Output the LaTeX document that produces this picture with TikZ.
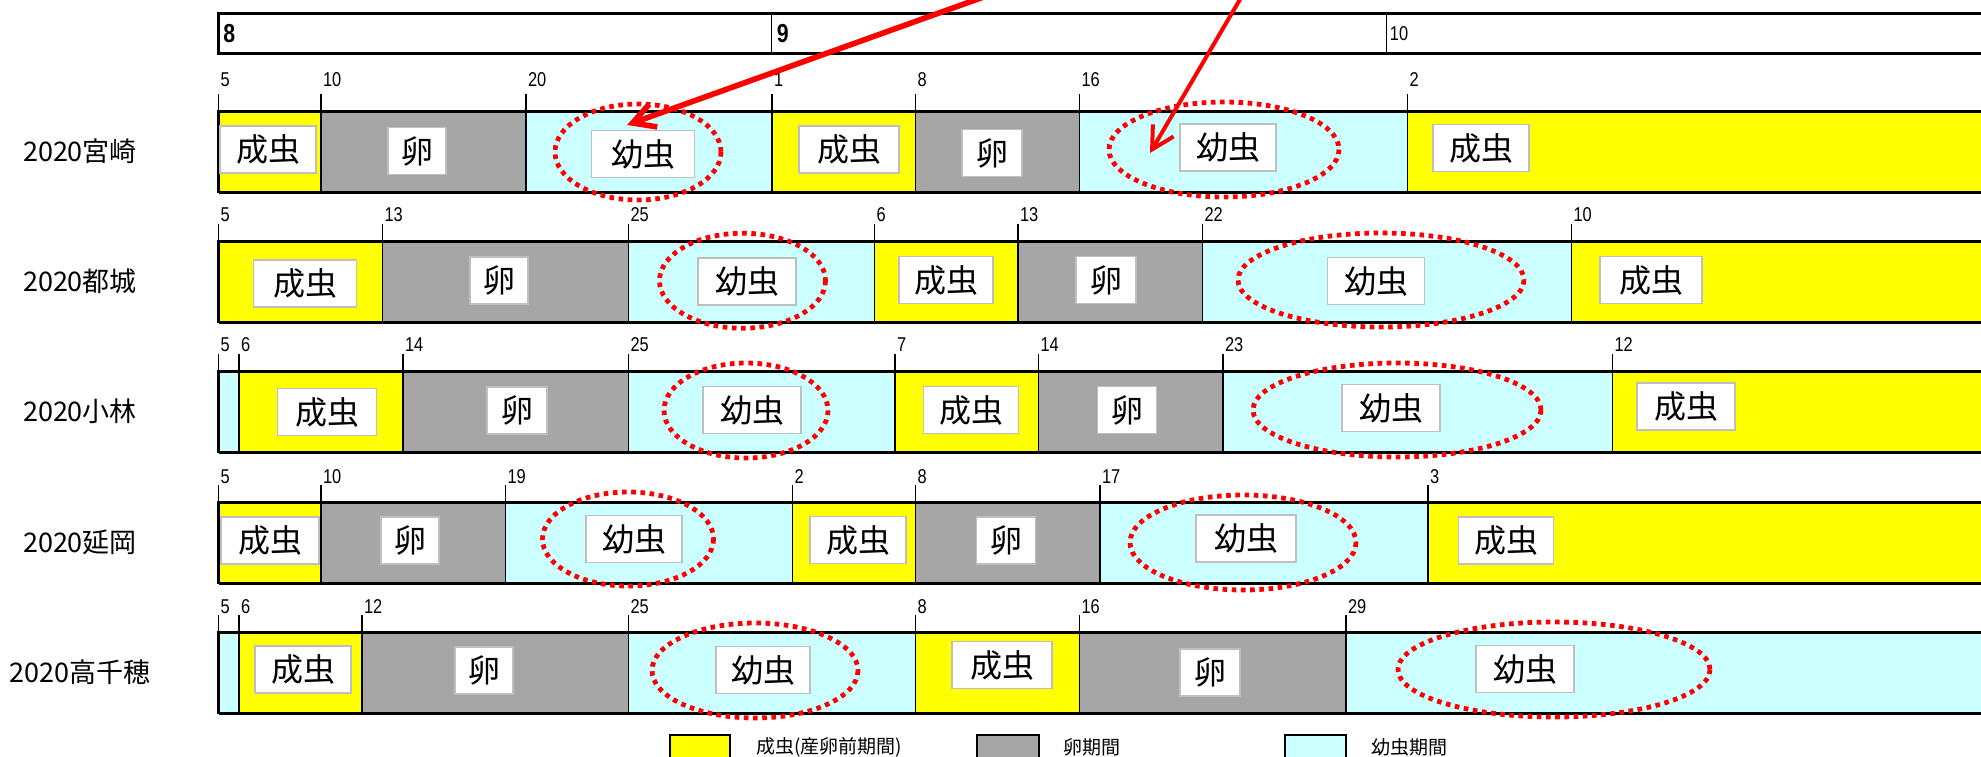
\documentclass[tikz,border=0pt]{standalone}
\usepackage{fontspec}
\setmainfont{Noto Sans CJK JP}
\newfontfamily\numf[FakeStretch=0.82]{Liberation Sans}
\usetikzlibrary{arrows.meta}
\definecolor{cY}{HTML}{FFFF00}
\definecolor{cG}{HTML}{A6A6A6}
\definecolor{cC}{HTML}{CCFFFF}
\definecolor{cR}{HTML}{FF0000}
\definecolor{cB}{HTML}{BFBFBF}
\newcommand\xd[1]{218.6+20.5*(#1)}
\tikzset{
 thickline/.style={line width=1.5pt},
 divline/.style={line width=0.75pt},
 tickline/.style={line width=0.75pt},
 ticklab/.style={anchor=west, inner sep=0pt, xshift=0.8pt, font=\numf\fontsize{10pt}{10pt}\selectfont},
 lbox/.style={draw=cB, line width=0.7pt, fill=white, inner sep=0pt, minimum height=23.5pt, font=\fontsize{16pt}{16pt}\selectfont},
 dotred/.style={draw=cR, line width=2.4pt, dash pattern=on 2.3pt off 2.3pt},
 redarrow/.style={draw=cR, -{Straight Barb[length=11pt,width=12pt]}},
 rowlab/.style={inner sep=0pt, font=\fontsize{13.5pt}{13.5pt}\selectfont},
 legtxt/.style={anchor=west, inner sep=0pt, font=\fontsize{9.5pt}{9.5pt}\selectfont},
 legbox/.style={draw=black, line width=1pt},
 monthlab/.style={anchor=west, inner sep=0pt, font=\numf\bfseries\fontsize{13pt}{13pt}\selectfont},
}
% #1 id, #2 top, #3 segments, #4 dividers, #5 ticks, #6 label gap
\newcommand\dorow[6]{%
 \foreach \a/\b/\c in {#3} \fill[\c] ({\xd{\a}},#2) rectangle ({\xd{\b}},#2+81);
 \foreach \a in {#4} \draw[divline] ({\xd{\a}},#2) -- ({\xd{\a}},#2+81);
 \foreach \a/\l in {#5} {\draw[tickline] ({\xd{\a}},#2-17) -- ({\xd{\a}},#2);
   \node[ticklab] (#1d\a) at ({\xd{\a}},#2-#6) {\l};}
 \draw[thickline] (218.6,#2) -- (1990,#2) (218.6,#2+81) -- (1990,#2+81);
 \draw[thickline] (218.6,#2-0.7) -- (218.6,#2+81.7);
}
\newcommand\bx[5]{\node[lbox, minimum width={#4*0.5pt}] (#1) at (#2,#3) {#5};}
\newcommand\el[4]{\draw[dotred] (#1,#2) ellipse [x radius=#3, y radius=#4];}
\begin{document}
\begin{tikzpicture}[x=0.5pt,y=-0.5pt]
\useasboundingbox (0,0) rectangle (1981,756);
\fill[white] (0,0) rectangle (1981,756);

% rows
\dorow{a}{111}{0/5/cY,5/15/cG,15/27/cC,27/34/cY,34/42/cG,42/58/cC,58/87/cY}{5,15,27,34,42,58}{0/5,5/10,15/20,27/1,34/8,42/16,58/2}{31}
\dorow{b}{241}{0/8/cY,8/20/cG,20/32/cC,32/39/cY,39/48/cG,48/66/cC,66/87/cY}{8,20,32,39,48,66}{0/5,8/13,20/25,32/6,39/13,48/22,66/10}{26}
\dorow{c}{371}{0/1/cC,1/9/cY,9/20/cG,20/33/cC,33/40/cY,40/49/cG,49/68/cC,68/87/cY}{1,9,20,33,40,49,68}{0/5,1/6,9/14,20/25,33/7,40/14,49/23,68/12}{26}
\dorow{d}{502}{0/5/cY,5/14/cG,14/28/cC,28/34/cY,34/43/cG,43/59/cC,59/87/cY}{5,14,28,34,43,59}{0/5,5/10,14/19,28/2,34/8,43/17,59/3}{25}
\dorow{e}{632}{0/1/cC,1/7/cY,7/20/cG,20/34/cC,34/42/cY,42/55/cG,55/87/cC}{1,7,20,34,42,55}{0/5,1/6,7/12,20/25,34/8,42/16,55/29}{25}

% label boxes
\bx{a1}{268}{149.5}{96}{成虫}
\bx{a2}{417}{151}{58}{卵}
\bx{a3}{643}{154}{103}{幼虫}
\bx{a4}{849}{149.5}{100}{成虫}
\bx{a5}{992}{153}{60}{卵}
\bx{a6}{1228}{147.5}{96}{幼虫}
\bx{a7}{1481}{148}{96}{成虫}

\bx{b1}{305}{283.5}{103}{成虫}
\bx{b2}{499}{280.5}{58}{卵}
\bx{b3}{747}{281.5}{98}{幼虫}
\bx{b4}{946}{280}{94}{成虫}
\bx{b5}{1106}{280}{60}{卵}
\bx{b6}{1376}{281}{97}{幼虫}
\bx{b7}{1651}{280}{102}{成虫}

\bx{c1}{327}{412}{99}{成虫}
\bx{c2}{517}{410.5}{60}{卵}
\bx{c3}{752}{410}{98}{幼虫}
\bx{c4}{971}{410}{95}{成虫}
\bx{c5}{1127}{410}{59}{卵}
\bx{c6}{1391}{408}{98}{幼虫}
\bx{c7}{1686}{406.5}{98}{成虫}

\bx{d1}{270}{540.5}{98}{成虫}
\bx{d2}{410}{540.5}{58}{卵}
\bx{d3}{634}{539}{96}{幼虫}
\bx{d4}{858}{540}{96}{成虫}
\bx{d5}{1006}{540.5}{59}{卵}
\bx{d6}{1246}{538.5}{100}{幼虫}
\bx{d7}{1506}{540.5}{95}{成虫}

\bx{e1}{303}{669.5}{96}{成虫}
\bx{e2}{484}{670.5}{58}{卵}
\bx{e3}{763}{670}{94}{幼虫}
\bx{e4}{1002}{665}{100}{成虫}
\bx{e5}{1210}{672.5}{60}{卵}
\bx{e6}{1525}{669}{98}{幼虫}

% red dotted ellipses
\el{638}{152}{83}{48}
\el{1224}{149.5}{115}{47.5}
\el{742.5}{280.7}{83}{47.5}
\el{1381}{280}{143}{47}
\el{746}{410.5}{82}{47.5}
\el{1397}{410}{144}{47}
\el{628}{539}{85.5}{47}
\el{1243}{542.5}{113}{47.5}
\el{755}{670.5}{103}{47.5}
\el{1554}{669.5}{156}{47.5}

% month bar
\draw[line width=1.8pt] (218.6,13.3) -- (1990,13.3);
\draw[line width=1.8pt] (218.6,53.3) -- (1990,53.3);
\draw[line width=1.6pt] (218.6,12) -- (218.6,54.6);
\draw[divline] (771.4,13.3) -- (771.4,53.3);
\draw[divline] (1386.6,13.3) -- (1386.6,53.3);
\node[monthlab] (m8) at (223,33.5) {8};
\node[monthlab] (m9) at (776.5,33.5) {9};
\node[monthlab, font=\numf\fontsize{10pt}{10pt}\selectfont] (m10) at (1389.5,34) {10};

% red arrows
\coordinate (a1s) at (1003,-10);
\coordinate (a1e) at (627,125);
\coordinate (a2s) at (1245.5,-10);
\coordinate (a2e) at (1150,153);
\draw[redarrow, line width=2.8pt] (a1s) -- (a1e);
\draw[redarrow, line width=2pt] (a2s) -- (a2e);

% row labels
\node[rowlab] (r1) at (80,151.5) {2020宮崎};
\node[rowlab] (r2) at (80,281.5) {2020都城};
\node[rowlab] (r3) at (80,411.5) {2020小林};
\node[rowlab] (r4) at (80,542) {2020延岡};
\node[rowlab] (r5) at (80,672) {2020高千穂};

% legend
\fill[cY] (670,735) rectangle (730,770);
\draw[legbox] (670,735) rectangle (730,770);
\fill[cG] (977,735) rectangle (1039,770);
\draw[legbox] (977,735) rectangle (1039,770);
\fill[cC] (1285,735) rectangle (1346,770);
\draw[legbox] (1285,735) rectangle (1346,770);
\node[legtxt] (l1) at (756,747) {成虫(産卵前期間)};
\node[legtxt] (l2) at (1063,747) {卵期間};
\node[legtxt] (l3) at (1371,747) {幼虫期間};
\end{tikzpicture}
\end{document}
